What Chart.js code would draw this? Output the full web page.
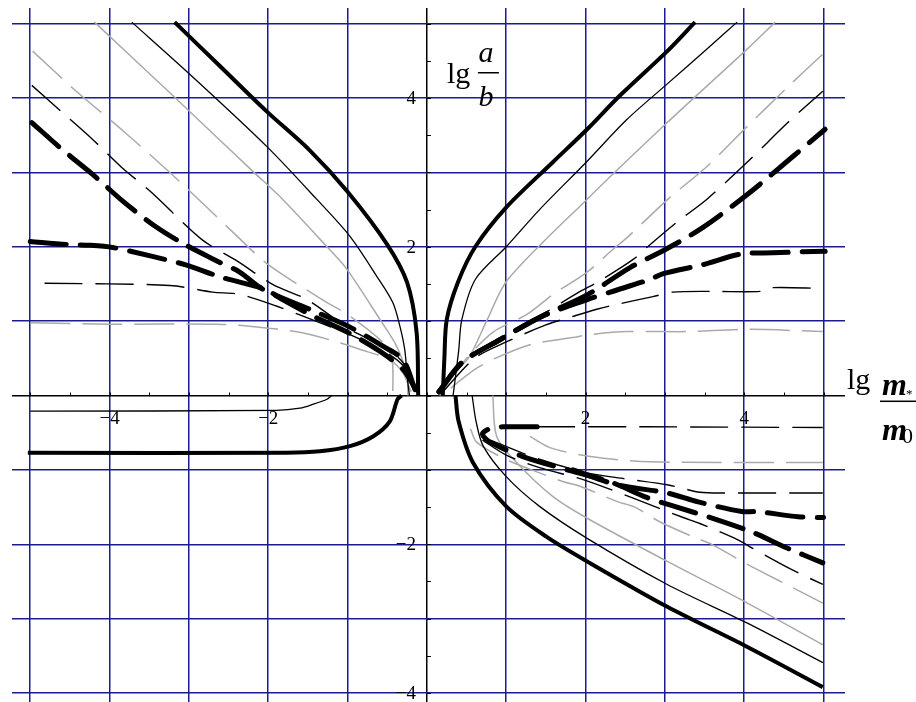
<!DOCTYPE html>
<html>
<head>
<meta charset="utf-8">
<script src="https://cdn.jsdelivr.net/npm/chart.js@4.4.1/dist/chart.umd.min.js"></script>
<style>
    html, body { margin: 0; padding: 0; background: #fff; }
    #wrap { width: 916px; height: 702px; }
</style>
</head>
<body>
<div id="wrap"><canvas id="plot" width="916" height="702"></canvas></div>
<script>
// Datos: lg(m*/m0) en x, lg(a/b) en y
const xTickLabels = [-4, -2, 2, 4];
const yTickLabels = [4, 2, -2, -4];

// Cuadrante superior izquierdo
const ulThick = [[-3.18,5.02],[-2.61,4.43],[-2.02,3.82],[-1.48,3.3],[-1.0,2.74],[-0.5,2.03],[-0.25,1.52],[-0.13,0.85],[-0.11,0]];
const ulThin = [[-3.72,5.02],[-2.99,4.32],[-2.02,3.35],[-1.39,2.64],[-0.97,2.14],[-0.63,1.6],[-0.43,1.25],[-0.34,0.93],[-0.28,0.62],[-0.24,0.17],[-0.22,0]];
const ulGray = [[-4.19,5.02],[-3.2,4.03],[-2.19,3.01],[-1.82,2.64],[-1.26,2.0],[-1.01,1.7],[-0.59,1.02],[-0.38,0.66],[-0.25,0.26],[-0.24,0]];
const ulGrayDash = [[-4.97,4.63],[-4.42,4.09],[-3.81,3.54],[-3.11,2.87],[-2.38,2.13],[-2.0,1.76],[-1.29,1.27],[-1.0,1.09],[-0.55,0.71],[-0.44,0.5],[-0.43,0]];
const ulThinDash = [[-4.98,4.17],[-4.6,3.81],[-4.22,3.45],[-3.85,3.07],[-3.47,2.73],[-2.84,2.1],[-2.38,1.8],[-1.94,1.49],[-1.51,1.29],[-0.97,0.89],[-0.55,0.66],[-0.3,0.44],[-0.15,0.05]];
const ulThickDash = [[-4.98,3.67],[-4.6,3.31],[-4.21,2.97],[-3.83,2.61],[-3.43,2.28],[-3.05,2.03],[-2.61,1.79],[-2.36,1.66],[-2.07,1.43],[-1.39,1.12],[-0.97,0.92],[-0.55,0.66],[-0.3,0.48],[-0.15,0.08]];
const ulThickFlat = [[-5.0,2.07],[-4.54,2.03],[-4.25,2.02],[-3.96,1.99],[-3.46,1.87],[-3.05,1.76],[-2.59,1.59],[-2.04,1.43],[-1.82,1.29],[-1.4,1.05],[-1.0,0.85],[-0.6,0.6],[-0.3,0.35],[-0.15,0.1]];
const ulThinFlat = [[-4.82,1.51],[-3.24,1.48],[-2.7,1.39],[-2.36,1.36],[-1.89,1.2],[-1.4,1.0],[-0.97,0.82],[-0.55,0.6],[-0.3,0.4],[-0.15,0.08]];
const ulGrayFlat = [[-5.0,0.98],[-4.0,0.96],[-2.65,0.96],[-2.14,0.92],[-1.6,0.85],[-1.1,0.71],[-0.84,0.62],[-0.47,0.48],[-0.3,0.3],[-0.2,0.05]];

// Cuadrante inferior izquierdo
const llThin = [[-5.0,-0.21],[-1.89,-0.2],[-1.6,-0.17],[-1.44,-0.12],[-1.26,-0.05],[-1.2,0]];
const llThick = [[-5.03,-0.77],[-1.77,-0.77],[-1.35,-0.75],[-0.97,-0.68],[-0.68,-0.55],[-0.47,-0.35],[-0.37,-0.05],[-0.32,0]];

// Cuadrante superior derecho
const urThick = [[0.2,0],[0.22,0.5],[0.25,1.02],[0.39,1.52],[0.61,2.0],[1.0,2.53],[1.59,3.14],[2.02,3.58],[2.43,4.03],[3.03,4.63],[3.38,5.02]];
const urThin = [[0.33,0],[0.4,0.6],[0.44,1.02],[0.61,1.56],[1.0,2.0],[1.42,2.5],[2.02,3.15],[2.52,3.71],[3.03,4.19],[3.53,4.66],[3.91,5.02]];
const urGray = [[0.16,0],[0.35,0.3],[0.54,0.53],[0.76,1.02],[1.02,1.56],[2.02,2.64],[3.03,3.67],[4.04,4.66],[4.39,5.02]];
const urGrayDash = [[0.2,0.1],[0.5,0.5],[0.83,0.85],[1.26,1.09],[1.59,1.36],[2.02,1.66],[2.35,1.97],[2.53,2.13],[3.06,2.66],[3.53,3.08],[4.04,3.62],[4.54,4.14],[4.99,4.59]];
const urThinDash = [[0.15,0.05],[0.5,0.5],[1.0,0.82],[1.5,1.12],[1.9,1.38],[2.16,1.53],[2.6,1.83],[2.77,1.99],[3.15,2.33],[3.53,2.64],[4.05,3.15],[4.55,3.67],[4.99,4.09]];
const urThickDash = [[0.15,0.05],[0.45,0.45],[0.92,0.75],[1.42,1.05],[2.03,1.36],[2.56,1.72],[3.0,1.96],[3.48,2.26],[4.07,2.73],[4.62,3.22],[5.02,3.58]];
const urThickFlat = [[0.15,0.05],[0.45,0.45],[0.92,0.75],[1.42,1.05],[2.02,1.29],[2.31,1.39],[2.81,1.56],[2.98,1.64],[3.48,1.76],[3.95,1.9],[4.36,1.92],[5.02,1.94]];
const urThinFlat = [[0.2,0.05],[0.6,0.5],[1.0,0.72],[1.5,0.95],[1.8,1.05],[2.14,1.16],[2.37,1.22],[2.85,1.33],[3.1,1.39],[3.61,1.4],[4.2,1.4],[4.33,1.45],[4.99,1.44]];
const urGrayFlat = [[0.3,0.1],[0.6,0.35],[0.88,0.51],[1.32,0.69],[1.84,0.78],[2.06,0.82],[2.52,0.86],[3.28,0.86],[4.04,0.89],[4.99,0.86]];

// Cuadrante inferior derecho
const lrThick = [[0.36,0],[0.4,-0.35],[0.58,-0.9],[1.0,-1.49],[1.51,-1.9],[2.02,-2.23],[3.03,-2.84],[4.04,-3.38],[4.99,-3.92]];
const lrThin = [[0.57,0],[0.62,-0.35],[0.71,-0.68],[1.0,-1.09],[1.42,-1.49],[2.02,-1.92],[3.03,-2.54],[4.04,-3.06],[4.99,-3.59]];
const lrGray = [[0.83,0],[0.88,-0.55],[1.13,-0.9],[1.59,-1.36],[2.02,-1.65],[3.03,-2.23],[4.04,-2.79],[4.99,-3.35]];
const lrGrayDash = [[0.55,-0.45],[0.63,-0.63],[1.0,-0.86],[1.42,-1.04],[1.72,-1.16],[1.93,-1.22],[2.41,-1.43],[2.62,-1.5],[2.94,-1.7],[3.38,-1.91],[3.59,-2.0],[4.04,-2.27],[4.22,-2.37],[4.66,-2.61],[4.99,-2.79]];
const lrThinDash = [[0.7,-0.6],[1.0,-0.8],[1.42,-0.97],[1.97,-1.13],[2.6,-1.38],[3.23,-1.64],[3.44,-1.72],[3.92,-1.94],[4.1,-2.05],[4.6,-2.34],[4.99,-2.54]];
const lrThickDash = [[1.39,-0.42],[1.2,-0.42],[0.96,-0.42],[0.78,-0.45],[0.7,-0.52],[0.8,-0.63],[1.21,-0.82],[1.84,-1.02],[2.31,-1.16],[2.77,-1.37],[3.06,-1.47],[3.66,-1.67],[4.11,-1.84],[4.54,-2.05],[4.99,-2.25]];
const lrThickFlat = [[1.84,-1.0],[2.4,-1.2],[3.03,-1.31],[3.42,-1.43],[3.97,-1.56],[4.16,-1.56],[4.68,-1.63],[5.0,-1.64]];
const lrThinFlat = [[0.8,-0.6],[1.4,-0.85],[2.02,-1.04],[2.5,-1.12],[3.03,-1.2],[3.23,-1.25],[3.44,-1.3],[3.72,-1.31],[4.99,-1.31]];
const lrThinTop = [[1.39,-0.42],[2.77,-0.42],[4.99,-0.43]];
const lrGrayFlat = [[1.3,-0.55],[1.55,-0.7],[2.06,-0.82],[2.81,-0.89],[4.99,-0.9]];

(function () {
    "use strict";

    const NAVY = "#1c1c8e";
    const GRAY = "#aaaaaa";

    // estilos de las seis familias de curvas
    const styles = {
        thick:     { borderColor: "#000", borderWidth: 4 },
        thin:      { borderColor: "#000", borderWidth: 1.3 },
        gray:      { borderColor: GRAY, borderWidth: 1.5 },
        grayDash:  { borderColor: GRAY, borderWidth: 1.5, borderDash: [40, 12] },
        thinDash:  { borderColor: "#000", borderWidth: 1.4, borderDash: [38, 13] },
        thickDash: { borderColor: "#000", borderWidth: 5, borderDash: [36, 14], borderCapStyle: "round" }
    };

    const curves = [
        [ulThick, "thick"], [urThick, "thick"], [lrThick, "thick"], [llThick, "thick"],
        [ulThickDash, "thickDash"], [ulThickFlat, "thickDash"], [urThickDash, "thickDash"],
        [urThickFlat, "thickDash"], [lrThickDash, "thickDash"], [lrThickFlat, "thickDash"],
        [ulThin, "thin"], [urThin, "thin"], [lrThin, "thin"], [llThin, "thin"],
        [ulThinDash, "thinDash"], [ulThinFlat, "thinDash"], [urThinDash, "thinDash"],
        [urThinFlat, "thinDash"], [lrThinDash, "thinDash"], [lrThinFlat, "thinDash"], [lrThinTop, "thinDash"],
        [ulGray, "gray"], [urGray, "gray"], [lrGray, "gray"],
        [ulGrayDash, "grayDash"], [ulGrayFlat, "grayDash"], [urGrayDash, "grayDash"],
        [urGrayFlat, "grayDash"], [lrGrayDash, "grayDash"], [lrGrayFlat, "grayDash"]
    ];

    const datasets = curves.map(([pts, kind]) => Object.assign({
        data: pts.map(p => ({ x: p[0], y: p[1] })),
        showLine: true,
        pointRadius: 0,
        tension: 0.3,
        fill: false,
        borderJoinStyle: "round"
    }, styles[kind]));

    function fmt(v) {
        return v < 0 ? "\u2212" + Math.abs(v) : String(v);
    }

    // Ejes en cero, marcas menores, etiquetas y títulos
    const axisDecor = {
        id: "axisDecor",
        afterDraw(chart) {
            const ctx = chart.ctx;
            const xs = chart.scales.x, ys = chart.scales.y;
            const x0 = xs.getPixelForValue(0), y0 = ys.getPixelForValue(0);

            ctx.save();
            ctx.strokeStyle = "#000";
            ctx.lineWidth = 1;
            ctx.beginPath();
            for (let v = -5; v <= 5; v += 0.5) {
                const px = Math.round(xs.getPixelForValue(v)) + 0.5;
                ctx.moveTo(px, y0);
                ctx.lineTo(px, y0 - 3);
            }
            for (let v = -4; v <= 5; v += 0.5) {
                const py = Math.round(ys.getPixelForValue(v)) + 0.5;
                ctx.moveTo(x0, py);
                ctx.lineTo(x0 + 4, py);
            }
            ctx.stroke();

            ctx.fillStyle = "#000";
            ctx.font = "19px 'Liberation Serif', serif";
            ctx.textAlign = "center";
            ctx.textBaseline = "middle";
            xTickLabels.forEach(v => ctx.fillText(fmt(v), xs.getPixelForValue(v), y0 + 23));
            ctx.textAlign = "right";
            yTickLabels.forEach(v => ctx.fillText(fmt(v), x0 - 11, ys.getPixelForValue(v) + 1));

            // título vertical: lg a/b
            ctx.textBaseline = "alphabetic";
            ctx.textAlign = "left";
            ctx.font = "30px 'Liberation Serif', serif";
            ctx.fillText("lg", x0 + 20, 83);
            ctx.font = "italic 30px 'Liberation Serif', serif";
            ctx.textAlign = "center";
            ctx.fillText("a", x0 + 59, 62);
            ctx.fillText("b", x0 + 59, 106);
            ctx.fillRect(x0 + 51, 72, 21, 1.5);

            // título horizontal: lg m*/m0
            ctx.textAlign = "left";
            ctx.font = "30px 'Liberation Serif', serif";
            ctx.fillText("lg", 847, y0 - 7);
            ctx.fillRect(880, y0 + 5, 36, 1.5);
            ctx.font = "bold italic 32px 'Liberation Serif', serif";
            ctx.fillText("m", 882, y0 - 1);
            ctx.fillText("m", 882, y0 + 44);
            ctx.font = "13px 'Liberation Serif', serif";
            ctx.fillText("*", 906, y0 + 2);
            ctx.font = "22px 'Liberation Serif', serif";
            ctx.fillText("0", 902, y0 + 47);
            ctx.restore();
        }
    };

    function gridColor(c) {
        return c.tick && c.tick.value === 0 ? "#000" : NAVY;
    }

    // una línea de rejilla por cada entero dentro del rango
    function integerTicks(scale) {
        const out = [];
        for (let v = Math.ceil(scale.min); v <= Math.floor(scale.max); v++) {
            out.push({ value: v });
        }
        scale.ticks = out;
    }

    new Chart(document.getElementById("plot"), {
        type: "scatter",
        data: { datasets: datasets },
        options: {
            responsive: false,
            animation: false,
            devicePixelRatio: 1,
            layout: { padding: { left: 12, top: 8, right: 71, bottom: 0 } },
            plugins: {
                legend: { display: false },
                tooltip: { enabled: false }
            },
            scales: {
                x: {
                    type: "linear",
                    min: -5.23,
                    max: 5.27,
                    afterBuildTicks: integerTicks,
                    afterFit: s => { s.height = 0; },
                    ticks: { display: false, stepSize: 1 },
                    border: { display: false },
                    grid: { color: gridColor, lineWidth: 1.5, drawTicks: false }
                },
                y: {
                    type: "linear",
                    min: -4.12,
                    max: 5.21,
                    afterBuildTicks: integerTicks,
                    afterFit: s => { s.width = 0; },
                    ticks: { display: false, stepSize: 1 },
                    border: { display: false },
                    grid: { color: gridColor, lineWidth: 1.5, drawTicks: false }
                }
            }
        },
        plugins: [axisDecor]
    });
})();
</script>
</body>
</html>
